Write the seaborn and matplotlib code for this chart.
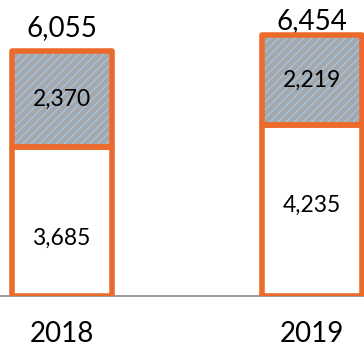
import matplotlib
matplotlib.use("Agg")
import matplotlib.pyplot as plt
import seaborn as sns
import pandas as pd

years = ["2018", "2019"]
base_values = [3685, 4235]
upper_values = [2370, 2219]
totals = [6055, 6454]

sns.set_theme(style="white")
plt.rcParams["font.family"] = ["Lato", "DejaVu Sans"]
plt.rcParams["hatch.linewidth"] = 0.9

orange = "#EC6A2C"
fill_gray = "#A7A7A7"
stripe_blue = "#9CC8F0"

df = pd.DataFrame({"year": years, "base": base_values,
                   "upper": upper_values, "total": totals})

fig = plt.figure(figsize=(3.64, 3.51), dpi=100)
ax = fig.add_axes([0, 0.1553, 1, 0.8447])

bw = 0.4
# hatched upper segment drawn as the full stack, lower segment covers it
sns.barplot(data=df, x="year", y="total", ax=ax, color=fill_gray,
            width=bw, saturation=1, edgecolor=stripe_blue, linewidth=0,
            hatch="////")
sns.barplot(data=df, x="year", y="base", ax=ax, color="white",
            width=bw, saturation=1, linewidth=0)
# orange outlines of both segments
for i, (b, u) in enumerate(zip(base_values, upper_values)):
    ax.bar(i, b, width=bw, fill=False, edgecolor=orange, linewidth=4.0,
           joinstyle="round", zorder=5)
    ax.bar(i, u, bottom=b, width=bw, fill=False, edgecolor=orange,
           linewidth=4.0, joinstyle="round", zorder=5)

ax.set_xlim(-0.246, 1.21)
ax.set_ylim(0, 7320)

# vertical placement of the labels inside the lower segments
base_label_pos = [0.39, 0.53]
label_pad = [7, 1]
for i, t in enumerate(totals):
    ax.annotate(f"{t:,}", (i, t), xytext=(0, label_pad[i]),
                textcoords="offset points", ha="center", va="bottom",
                fontsize=20, color="black")
for i, (b, u) in enumerate(zip(base_values, upper_values)):
    ax.text(i, b * base_label_pos[i], f"{b:,}", ha="center", va="center",
            fontsize=16.5, color="black", zorder=6)
    ax.text(i, b + u / 2, f"{u:,}", ha="center", va="center",
            fontsize=16.5, color="black", zorder=6)

for s in ["top", "right", "left"]:
    ax.spines[s].set_visible(False)
ax.spines["bottom"].set_color("#9A9A9A")
ax.spines["bottom"].set_linewidth(1.4)
ax.spines["bottom"].set_zorder(1)
ax.set_yticks([])
ax.set_xlabel("")
ax.set_ylabel("")
ax.tick_params(axis="x", length=0, pad=18, labelsize=20, labelcolor="black")

fig.savefig("out.png", dpi=100)
